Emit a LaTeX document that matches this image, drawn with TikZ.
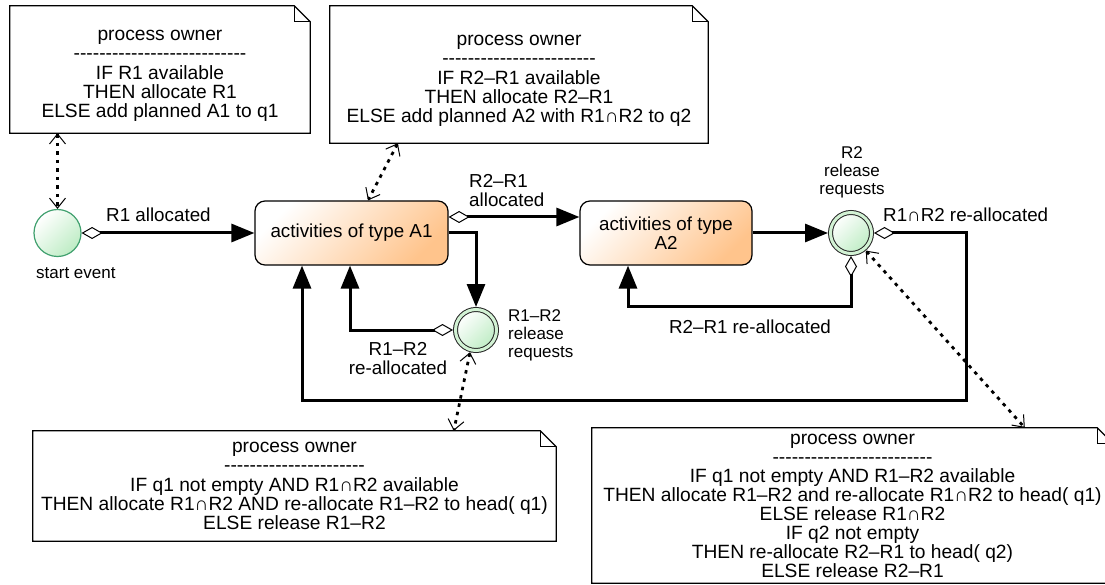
\documentclass[tikz,border=0pt]{standalone}
\usepackage{fontspec}
\setmainfont{Liberation Sans}
\usetikzlibrary{arrows.meta}
\definecolor{orangeF}{RGB}{255,196,140}
\definecolor{greenF}{RGB}{190,236,196}
\definecolor{greenR}{RGB}{210,242,212}
\definecolor{greenD}{RGB}{64,160,110}
\newcount\dashcnt
\newcommand\dashrow[1]{\dashcnt=#1\relax\loop-\kern0pt\advance\dashcnt by -1\relax\ifnum\dashcnt>0\repeat}
\newcommand\tstrut[1]{\rule{0pt}{#1}}
\newcommand\notebox[1]{%
  \draw[noteline] (#1.north west) -- ([xshift=-16pt]#1.north east) -- ([yshift=-16pt]#1.north east) -- (#1.south east) -- (#1.south west) -- cycle;
  \draw[noteline] ([xshift=-16pt]#1.north east) |- ([yshift=-16pt]#1.north east);}
\begin{document}
\begin{tikzpicture}[x=1pt,y=-1pt,
  txt/.style={inner sep=0pt, font=\fontsize{18.8}{19}\selectfont},
  sml/.style={inner sep=0pt, font=\fontsize{17}{18}\selectfont},
  note/.style={inner sep=0pt, font=\fontsize{19.2}{19.2}\selectfont, align=center},
  noteline/.style={line width=1.2pt, line join=miter},
  act/.style={txt, rectangle, rounded corners=10pt, draw, line width=1.2pt, top color=white, bottom color=orangeF, shading angle=45, align=center},
  startev/.style={circle, draw=greenD, line width=1.2pt, minimum size=47pt, inner sep=0pt, top color=white, bottom color=greenF, shading angle=45},
  ev/.style={circle, draw=black!85, line width=1pt, double=greenR, double distance=3pt, minimum size=41pt, inner sep=0pt, outer sep=2.5pt, top color=white, bottom color=greenF, shading angle=45},
  tflow/.style={line width=3pt, -{Triangle[length=23pt,width=18pt]}},
  dflow/.style={line width=3pt, {Diamond[open,length=21pt,width=12pt,line width=1pt]}-{Triangle[length=23pt,width=18pt]}},
  dotarr/.style={line width=2.8pt, dash pattern=on 3.5pt off 5pt, {Straight Barb[length=10pt,width=16pt,line width=1pt]}-{Straight Barb[length=10pt,width=16pt,line width=1pt]}}
]
\fill[white] (0,0) rectangle (1105,585);
\useasboundingbox (0,0) rectangle (1105,585);

% notes
\node[note, minimum width=300pt, minimum height=127pt] (n1) at (160,69.5)
  {\tstrut{23pt}process owner\\\dashrow{27}\\IF R1 available\\THEN allocate R1\\ELSE add planned A1 to q1};
\notebox{n1}
\node[note, minimum width=378pt, minimum height=137pt] (n2) at (519,74.5)
  {\tstrut{23pt}process owner\\\dashrow{24}\\IF R2–R1 available\\THEN allocate R2–R1\\ELSE add planned A2 with R1∩R2 to q2};
\notebox{n2}
\node[note, minimum width=523pt, minimum height=110pt] (n3) at (294.5,486)
  {process owner\\\dashrow{22}\\IF q1 not empty AND R1∩R2 available\\THEN allocate R1∩R2 AND re-allocate R1–R2 to head( q1)\\ELSE release R1–R2};
\notebox{n3}
\node[note, font=\fontsize{19.2}{19}\selectfont, minimum width=521pt, minimum height=155pt] (n4) at (852.5,505.5)
  {process owner\\\dashrow{25}\\IF q1 not empty AND R1–R2 available\\THEN allocate R1–R2 and re-allocate R1∩R2 to head( q1)\\ELSE release R1∩R2\\IF q2 not empty\\THEN re-allocate R2–R1 to head( q2)\\ELSE release R2–R1};
\notebox{n4}

% activities
\node[act, minimum width=193pt, minimum height=64pt] (A1) at (351.5,233) {activities of type A1};
\node[act, minimum width=172pt, minimum height=64pt] (A2) at (666,233) {activities of type\\A2};

% events
\node[startev] (start) at (57.5,233) {};
\node[ev] (ev1) at (476,330) {};
\node[ev] (ev2) at (851,233) {};
\coordinate (c1) at (966,233);
\coordinate (c2) at (966,400);

% labels
\node[sml, anchor=base west] (lst) at (36,278) {start event};
\node[sml, anchor=north west, align=left] (lev1) at (508,309.8) {R1–R2\\release\\requests};
\node[sml, anchor=north, align=center] (lev2) at (852,146.8) {R2\\release\\requests};
\node[txt, anchor=base west] (lc1) at (106,222) {R1 allocated};
\node[txt, anchor=north west, align=left] (lc2) at (469,174.5) {R2–R1\\allocated};
\node[txt, anchor=north, align=center] (lc3) at (398,342.5) {R1–R2\\re-allocated};
\node[txt, anchor=base] (lc4) at (750,333) {R2–R1 re-allocated};
\node[txt, anchor=base west] (lc5) at (883,222) {R1∩R2 re-allocated};

% flows
\draw[dflow] (start) -- (A1);
\draw[dflow] ([yshift=16pt]A1.east) -- ([yshift=16pt]A2.west);
\draw[tflow] (A1.east) -| (ev1.north);
\draw[dflow] (ev1.west) -| ([xshift=-1.5pt]A1.south);
\draw[tflow] (A2) -- (ev2);
\draw[dflow] (ev2.south) -- ++(0,50) -| ([xshift=-38pt]A2.south);
\draw[dflow] (ev2.east) -- (c1) -- (c2) -| ([xshift=-49.5pt]A1.south);

% associations
\draw[dotarr] (start.north |- n1.south) -- (start.north);
\draw[dotarr] ([xshift=68pt]n2.south west) -- ([xshift=16.5pt]A1.north);
\draw[dotarr] (ev1.-105) -- ([xshift=421pt]n3.north west);
\draw[dotarr] (ev2.-50) -- ([xshift=433pt]n4.north west);
\end{tikzpicture}
\end{document}
